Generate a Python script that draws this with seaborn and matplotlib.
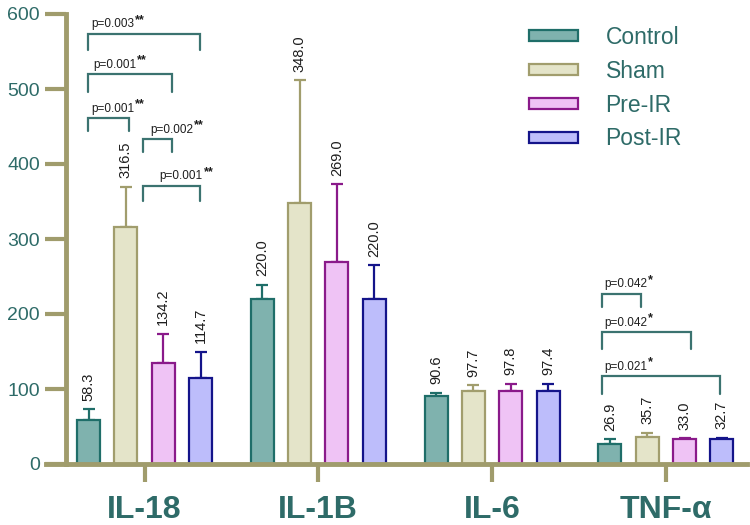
import numpy as np
import pandas as pd
import matplotlib
matplotlib.use("Agg")
import matplotlib.pyplot as plt
import seaborn as sns
from matplotlib.patches import Patch

# data
cytokines = ["IL-18", "IL-1B", "IL-6", "TNF-α"]
groups = ["Control", "Sham", "Pre-IR", "Post-IR"]
control = [58.3, 220.0, 90.6, 26.9]
sham = [316.5, 348.0, 97.7, 35.7]
pre_ir = [134.2, 269.0, 97.8, 33.0]
post_ir = [114.7, 220.0, 97.4, 32.7]
control_err = [14.7, 19.0, 4.4, 6.1]
sham_err = [53.5, 164.0, 7.3, 6.3]
pre_ir_err = [39.8, 104.0, 9.2, 1.5]
post_ir_err = [35.3, 45.0, 9.6, 2.3]

face_colors = ["#7fb2ae", "#e4e4c9", "#efc3f5", "#bdbdfb"]
edge_colors = ["#1f6e69", "#a19d6d", "#8a1a8a", "#14148a"]
axis_color = "#a09c6c"
teal = "#2e6b68"

# significance brackets: cytokine, left/right leg (offset from group centre), height, leg drop, text, stars, text nudge (pt)
br_cyto = [0, 0, 0, 0, 0, 3, 3, 3]
br_left = [-0.325, -0.325, -0.325, -0.009, -0.009, -0.368, -0.368, -0.368]
br_right = [0.319, 0.158, -0.089, 0.158, 0.319, -0.144, 0.144, 0.311]
br_y = [574, 520, 461, 433, 371, 227, 176, 117]
br_drop = [22, 24, 17, 17, 20, 17, 22, 24]
br_text = ["p=0.003", "p=0.001", "p=0.001", "p=0.002", "p=0.001", "p=0.042", "p=0.042", "p=0.021"]
br_stars = ["**", "**", "**", "**", "**", "*", "*", "*"]
br_nudge = [2, 4, 2, 5, 12, 2, 2, 2]

means = [control, sham, pre_ir, post_ir]
errs = [control_err, sham_err, pre_ir_err, post_ir_err]
df = pd.DataFrame({
    "cytokine": cytokines * 4,
    "group": np.repeat(groups, 4),
    "value": np.concatenate(means),
})

sns.set_style("ticks")
plt.rcParams["font.family"] = ["Liberation Sans", "DejaVu Sans"]

fig = plt.figure(figsize=(7.5, 5.25), dpi=100)
ax = fig.add_axes([46 / 750, 61 / 525, 701 / 750, 450 / 525])

sns.barplot(data=df, x="cytokine", y="value", hue="group", order=cytokines,
            hue_order=groups, palette=face_colors, saturation=1, width=0.859,
            gap=0.385, errorbar=None, legend=False, ax=ax)

for container, ec, err_list, mean_list in zip(ax.containers, edge_colors, errs, means):
    for bar, e, m in zip(container, err_list, mean_list):
        bar.set_edgecolor(ec)
        bar.set_linewidth(1.6)
        x = bar.get_x() + bar.get_width() / 2
        ax.errorbar(x, m, yerr=[[0], [e]], color=ec, elinewidth=1.6,
                    capsize=4, capthick=1.6, zorder=0.5)
        ax.annotate(f"{m:.1f}", (x, m + e), xytext=(0, 6), textcoords="offset points",
                    rotation=90, ha="center", va="bottom", fontsize=10.5, color="#1e1e1e")

for c, xl, xr, y, d, txt, st, nd in zip(br_cyto, br_left, br_right, br_y, br_drop,
                                        br_text, br_stars, br_nudge):
    xl, xr = c + xl, c + xr
    ax.plot([xl, xl, xr, xr], [y - d, y, y, y - d], color="#3b7370", lw=1.6,
            clip_on=False, solid_joinstyle="miter")
    t = ax.annotate(txt, (xl, y), xytext=(nd, 2.5), textcoords="offset points",
                    ha="left", va="bottom", fontsize=8.5, color="#1e1e1e")
    ax.annotate(st, xy=(1, 1), xycoords=t, xytext=(0.5, 3), textcoords="offset points",
                ha="left", va="top", fontsize=9, fontweight="bold", color="#1e1e1e")

ax.set_xlim(-0.567, 3.467)
ax.set_ylim(0, 600)
ax.set_yticks(range(0, 601, 100))
ax.set_xlabel("")
ax.set_ylabel("")

sns.despine(ax=ax)
ax.spines["left"].set_position(("data", -0.451))
for s in ["left", "bottom"]:
    ax.spines[s].set_color(axis_color)
    ax.spines[s].set_linewidth(3.5)

ax.tick_params(axis="y", length=15, width=3, color=axis_color, labelsize=14,
               labelcolor=teal, pad=4)
ax.tick_params(axis="x", length=13, width=3, color=axis_color, labelsize=23,
               labelcolor=teal, pad=9)
for lbl in ax.get_xticklabels():
    lbl.set_fontweight("bold")

handles = [Patch(facecolor=fc, edgecolor=ec, linewidth=1.6)
           for fc, ec in zip(face_colors, edge_colors)]
leg = fig.legend(handles, groups, loc="upper left", bbox_to_anchor=(529 / 750, 1 - 26 / 525),
                 frameon=False, fontsize=16.5, handlelength=2.14, handleheight=0.35,
                 handletextpad=1.2, labelspacing=0.47, borderpad=0, borderaxespad=0)
for t in leg.get_texts():
    t.set_color(teal)

fig.savefig("out.png", dpi=100)
